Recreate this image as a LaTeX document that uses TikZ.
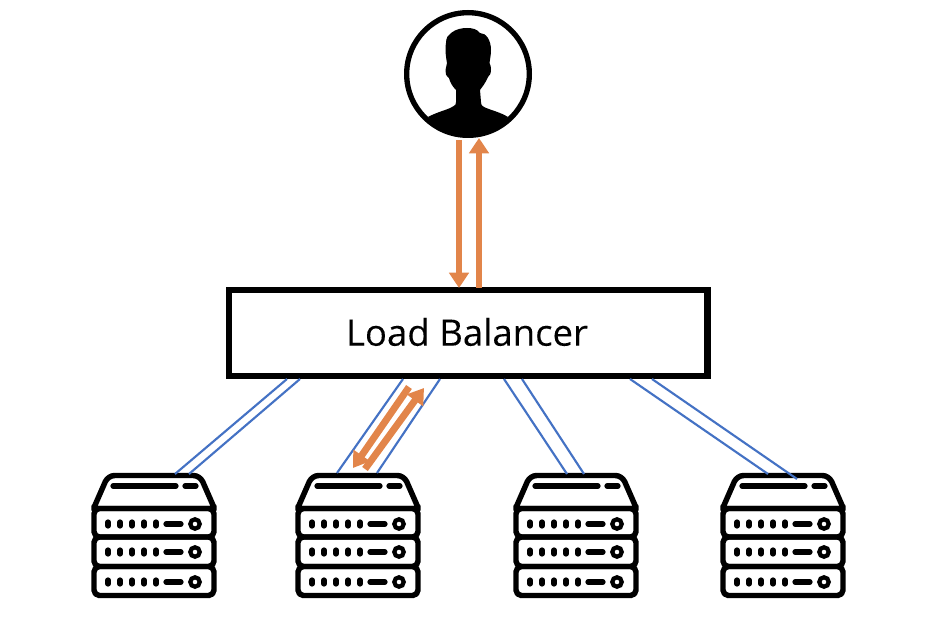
\documentclass[tikz,border=0pt]{standalone}
\usepackage{fontspec}
\setmainfont{Open Sans}
\usetikzlibrary{arrows.meta}
\definecolor{wireblue}{HTML}{4472C4}
\definecolor{floworange}{HTML}{E2854A}
\tikzset{
  wire/.style={draw=wireblue,line width=1.6pt},
  flow/.style={draw=floworange,line width=5.2pt,-{Triangle[length=11.5pt,width=14.5pt]}},
  unitline/.style={draw=black,line width=4.1pt,line join=round},
  mark bar/.style={draw=black,line width=3.9pt,line cap=round},
  lbbox/.style={draw=black,line width=4.9pt,fill=white,minimum width=359pt,minimum height=64.5pt,inner sep=0pt},
  lbtext/.style={font=\fontsize{27.4}{31}\selectfont\addfontfeature{FakeBold=0.12}},
  usercircle/.style={circle,draw=black,line width=4pt,minimum size=92pt,inner sep=0pt},
  server/.pic={
    \draw[unitline] (-60,33) [rounded corners=1.5pt] -- (-60,32) [rounded corners=5pt] -- (-46,0) -- (46,0) [rounded corners=1.5pt] -- (60,32) -- (60,33) -- cycle;
    \draw[unitline,rounded corners=4pt] (-60,33) rectangle (60,61.5);
    \draw[unitline,rounded corners=4pt] (-60,61.5) rectangle (60,91);
    \draw[unitline,rounded corners=4pt] (-60,91) rectangle (60,120);
    \draw[mark bar] (-41,10.5) -- (22,10.5);
    \draw[mark bar] (31,10.5) -- (42,10.5);
    \foreach \y in {48.5,76.5,106.5}{
      \foreach \x in {-46,-34,-22,-10,2}
        \draw[mark bar] (\x,\y-2) -- (\x,\y+2);
      \draw[mark bar] (12,\y) -- (27,\y);
      \draw[black,line width=3.2pt] (41,\y) circle (4.7);
    }
  }
}
\begin{document}
\begin{tikzpicture}[x=0.75pt,y=-0.75pt]
\useasboundingbox (0,0) rectangle (926,624);
% servers
\foreach \n/\cx in {s1/154,s2/358,s3/576,s4/783}{
  \coordinate (\n) at (\cx,475.5);
  \pic at (\n) {server};
}
% load balancer
\node[lbbox] (lb) at (468.25,333) {};
\node[lbtext] (lbl) at (467,332) {Load Balancer};
% user
\node[usercircle] (user) at (468,74) {};
\fill[black] (428,117)
  .. controls (437,112) and (447,110) .. (452,107)
  .. controls (456,105) and (456,104) .. (456,102)
  -- (456,90)
  .. controls (452,86) and (450,82) .. (449,78)
  .. controls (446,76) and (445,73) .. (445.5,70)
  .. controls (445.5,67) and (446.5,66) .. (447,63)
  .. controls (445.5,55) and (445,47) .. (446,43)
  .. controls (446,38) and (448,35) .. (451,33)
  .. controls (456,29) and (462,28) .. (467,28)
  .. controls (472,28) and (477,29) .. (480,33)
  .. controls (486,33) and (491,40) .. (491,50)
  .. controls (491,55) and (490,59) .. (489.5,63)
  .. controls (490.5,65) and (491,67) .. (491,69)
  .. controls (491,73) and (490,76) .. (488,77)
  .. controls (486,82) and (483,86) .. (480,90)
  -- (481,102)
  .. controls (481,104) and (481,105) .. (484,107)
  .. controls (490,110) and (500,112) .. (508,117)
  .. controls (497,130) and (483,137) .. (468,137)
  .. controls (453,137) and (439,130) .. (428,117) -- cycle;
% anchor points of the connectors
\coordinate (a1t) at (287,379); \coordinate (a1b) at (175,474);
\coordinate (b1t) at (300,379); \coordinate (b1b) at (189,474);
\coordinate (a2t) at (403,379); \coordinate (a2b) at (337,473);
\coordinate (b2t) at (440,379); \coordinate (b2b) at (377,473);
\coordinate (a3t) at (504,379); \coordinate (a3b) at (567,474);
\coordinate (b3t) at (522,379); \coordinate (b3b) at (584,474);
\coordinate (a4t) at (630,379); \coordinate (a4b) at (768,474);
\coordinate (b4t) at (652,379); \coordinate (b4b) at (797,479);
\foreach \p in {a1,b1,a2,b2,a3,b3,a4,b4}
  \draw[wire] (\p t) -- (\p b);
% orange
\coordinate (dn1) at (459,140); \coordinate (dn2) at (459,288);
\coordinate (up1) at (479,288); \coordinate (up2) at (479,138);
\coordinate (sd1) at (409,387); \coordinate (sd2) at (353,468);
\coordinate (su1) at (365,469); \coordinate (su2) at (424,388);
\draw[flow] (dn1) -- (dn2);
\draw[flow] (up1) -- (up2);
\draw[flow] (sd1) -- (sd2);
\draw[flow] (su1) -- (su2);
\end{tikzpicture}
\end{document}
